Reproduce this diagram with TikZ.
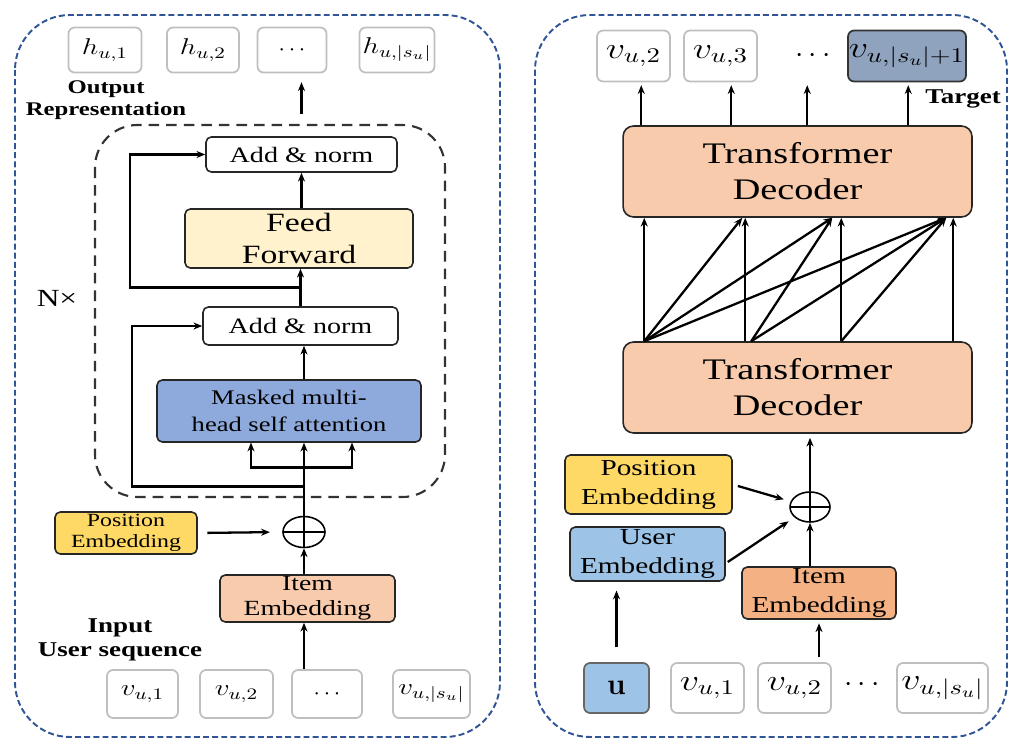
\RequirePackage{fix-cm}
\documentclass[tikz,border=0pt]{standalone}
\usepackage[no-math]{fontspec}
\setmainfont{Liberation Serif}[FakeStretch=1.28]
\usepackage{graphicx}
\usepackage{tikz}
\usetikzlibrary{calc,arrows.meta,shapes.geometric}

\definecolor{ffyellow}{RGB}{255,242,204}
\definecolor{mhablue}{RGB}{142,169,219}
\definecolor{posgold}{RGB}{255,217,102}
\definecolor{itempeach}{RGB}{248,203,173}
\definecolor{itemorange}{RGB}{244,177,131}
\definecolor{usrblue}{RGB}{157,195,230}
\definecolor{tgtgray}{RGB}{143,163,190}
\definecolor{panelblue}{RGB}{47,85,151}

\newcommand{\mth}[1]{\scalebox{1.28}[1]{$#1$}}

\begin{document}
\begin{tikzpicture}[x=0.02cm,y=-0.02cm,
		panel/.style={draw=panelblue,line width=1.1pt,dash pattern=on 3.4pt off 1.8pt,rounded corners=1.1cm},
		dashbox/.style={draw=black!80,line width=1.2pt,dash pattern=on 6pt off 4pt,rounded corners=0.85cm},
		gbox/.style={draw=black!25,line width=1pt,rounded corners=3.5pt,fill=white,inner sep=0pt},
		lseq/.style={gbox,minimum height=0.9cm,font=\fontsize{13}{15}\selectfont},
		rseq/.style={gbox,minimum height=1.02cm,font=\fontsize{17}{19}\selectfont},
		blk/.style={draw=black!85,line width=0.9pt,rounded corners=3pt,inner sep=0pt,align=center},
		plus/.style={ellipse,draw,line width=0.9pt,inner sep=0pt,
			path picture={\draw[line width=0.8pt] (path picture bounding box.north) -- (path picture bounding box.south)
				(path picture bounding box.west) -- (path picture bounding box.east);}},
		lbl/.style={align=center,font=\bfseries\fontsize{11}{12.5}\selectfont},
		arr/.style={-{Stealth[length=5pt,width=4pt]},line width=1.3pt}
		]
		\useasboundingbox (0,0) rectangle (1010,739);

		% left: self-attention encoder
		\draw[panel] (15,15) rectangle (500,737);
		\draw[dashbox] (95,125) rectangle (445,497);

		\node[lseq,minimum width=1.46cm](h1) at (105,50){\mth{h_{u,1}}};
		\node[lseq,minimum width=1.44cm](h2) at (203,50){\mth{h_{u,2}}};
		\node[lseq,minimum width=1.38cm](hd) at (292,50){$\cdots$};
		\node[lseq,minimum width=1.50cm](hs) at (397,50){\mth{h_{u,|s_u|}}};
		\node[lbl](outlbl) at (106,100){Output\\Representation};

		\node[blk,minimum width=3.82cm,minimum height=0.7cm,font=\fontsize{12.5}{14}\selectfont](an2) at (301.5,154.5){Add \& norm};
		\node[blk,fill=ffyellow,minimum width=4.56cm,minimum height=1.18cm,font=\fontsize{15}{18}\selectfont](ff) at (299,238.5){Feed\\Forward};
		\node[blk,minimum width=3.9cm,minimum height=0.76cm,font=\fontsize{12.5}{14}\selectfont](an1) at (300.5,326){Add \& norm};
		\node[blk,fill=mhablue,minimum width=5.28cm,minimum height=1.24cm,font=\fontsize{11.8}{15.5}\selectfont](mha) at (289,411){Masked multi-\\head self attention};
		\node[font=\fontsize{14}{16}\selectfont](nx) at (57,298){N×};

		\node[plus,minimum width=0.84cm,minimum height=0.62cm](p1) at (304,532){};
		\node[blk,fill=posgold,minimum width=2.84cm,minimum height=0.84cm,font=\fontsize{10.6}{12}\selectfont](pos1) at (126,533){Position\\Embedding};
		\node[blk,fill=itempeach,minimum width=3.5cm,minimum height=0.94cm,font=\fontsize{12.3}{14.5}\selectfont](item1) at (307.5,598.5){Item\\Embedding};
		\node[lbl,font=\bfseries\fontsize{12}{14}\selectfont](inlbl) at (120,640){Input\\User sequence};

		\node[lseq,minimum height=0.96cm,minimum width=1.42cm](v1) at (142.5,694){\mth{v_{u,1}}};
		\node[lseq,minimum height=0.96cm,minimum width=1.46cm](v2) at (236.5,694){\mth{v_{u,2}}};
		\node[lseq,minimum height=0.96cm,minimum width=1.40cm](vd) at (327,694){$\cdots$};
		\node[lseq,minimum height=0.96cm,minimum width=1.54cm](vs) at (431.5,694){\mth{v_{u,|s_u|}}};

		\draw[arr] ($(an2.north)+(0,-22)$) -- ++(0,-32);
		\draw[arr] (ff.north -| an2) -- (an2.south);
		\draw[arr] (an1.north) -- (an1.north |- ff.south);
		\draw[arr] ($(an1.north)!0.5!(ff.south)$) -- ++(-170,0) |- (an2.west);
		\draw[arr] (mha.north -| p1) -- (an1.south -| p1);
		\draw[arr] (p1.north) -- (p1 |- mha.south);
		\coordinate (br) at ($(p1.north)!0.66!(p1 |- mha.south)$);
		\draw[arr] (br) -- ++(-53,0) -- ++(0,-25);
		\draw[arr] (br) -- ++(48,0) -- ++(0,-25);
		\draw[arr] ($(p1.north)!0.4!(p1 |- mha.south)$) -- ++(-172,0) |- (an1.west);
		\draw[arr,shorten <=5.5pt,shorten >=7pt] (pos1.east) -- (p1.west);
		\draw[arr] (item1.north -| p1) -- (p1.south);
		\draw[arr] (vd.north -| p1) -- (item1.south -| p1);

		% right: decoder
		\draw[panel] (535,15) rectangle (1007,737);

		\node[rseq,minimum width=1.46cm](t2) at (633.5,56){\mth{v_{u,2}}};
		\node[rseq,minimum width=1.46cm](t3) at (720.5,56){\mth{v_{u,3}}};
		\node[font=\fontsize{17}{19}\selectfont](td) at (813,56){$\cdots$};
		\node[rseq,fill=tgtgray,draw=black!80,minimum width=2.36cm](tt) at (907,56){\mth{v_{u,|s_u|+1}}};
		\node[lbl,font=\bfseries\fontsize{12}{14}\selectfont](tgt) at (963,99){Target};

		\node[blk,fill=itempeach,rounded corners=6pt,minimum width=6.98cm,minimum height=1.82cm,font=\fontsize{17}{20.5}\selectfont](dec2) at (797.5,171.5){Transformer\\Decoder};
		\node[blk,fill=itempeach,rounded corners=6pt,minimum width=6.98cm,minimum height=1.82cm,font=\fontsize{17}{20.5}\selectfont](dec1) at (797.5,387.5){Transformer\\Decoder};

		\node[plus,minimum width=0.8cm,minimum height=0.6cm](p2) at (810,507){};
		\node[blk,fill=posgold,minimum width=3.34cm,minimum height=1.18cm,font=\fontsize{13}{16.5}\selectfont](pos2) at (648.5,484.5){Position\\Embedding};
		\node[blk,fill=usrblue,minimum width=3.1cm,minimum height=1.08cm,font=\fontsize{13}{17}\selectfont](usr) at (647.5,554){User\\Embedding};
		\node[blk,fill=itemorange,minimum width=3.08cm,minimum height=1.04cm,font=\fontsize{13}{16}\selectfont](item2) at (819,593){Item\\Embedding};

		\node[rseq,fill=usrblue,draw=black!60,minimum width=1.3cm,minimum height=1cm](u) at (616.5,688){$\mathbf{u}$};
		\node[rseq,minimum width=1.46cm,minimum height=1cm](bv1) at (707.5,688){\mth{v_{u,1}}};
		\node[rseq,minimum width=1.46cm,minimum height=1cm](bv2) at (794.5,688){\mth{v_{u,2}}};
		\node[font=\fontsize{17}{19}\selectfont](bd) at (862,685){$\cdots$};
		\node[rseq,minimum width=1.82cm,minimum height=1cm](bvs) at (942.5,688){\mth{v_{u,|s_u|}}};

		\foreach \dx in {19,109,185,286}
			\draw[arr] ($(dec2.north west)+(\dx,0)$) -- ++(0,-40);
		\foreach \dx in {22,123,219,331}
			\draw[arr] ($(dec1.north west)+(\dx,0)$) -- ($(dec2.south west)+(\dx,0)$);
		\foreach \a/\b in {22/120,22/210,22/324,129/210,129/324,219/324}
			\draw[arr] ($(dec1.north west)+(\a,0)$) -- ($(dec2.south west)+(\b,0)$);

		\draw[arr] (p2.north) -- ($(p2 |- dec1.south)+(0,4)$);
		\draw[arr,shorten <=3pt,shorten >=4pt] (pos2.east) -- (p2);
		\draw[arr,shorten >=4pt] ($(usr.east)+(2,8)$) -- (p2);
		\draw[arr] (item2.north -| p2) -- (p2.south);
		\draw[arr,shorten <=8.5pt,shorten >=5pt] (u.north) -- (u.north |- usr.south);
		\draw[arr,shorten <=3pt,shorten >=2pt] (item2.south |- bv2.north) -- (item2.south);
	\end{tikzpicture}
\end{document}
